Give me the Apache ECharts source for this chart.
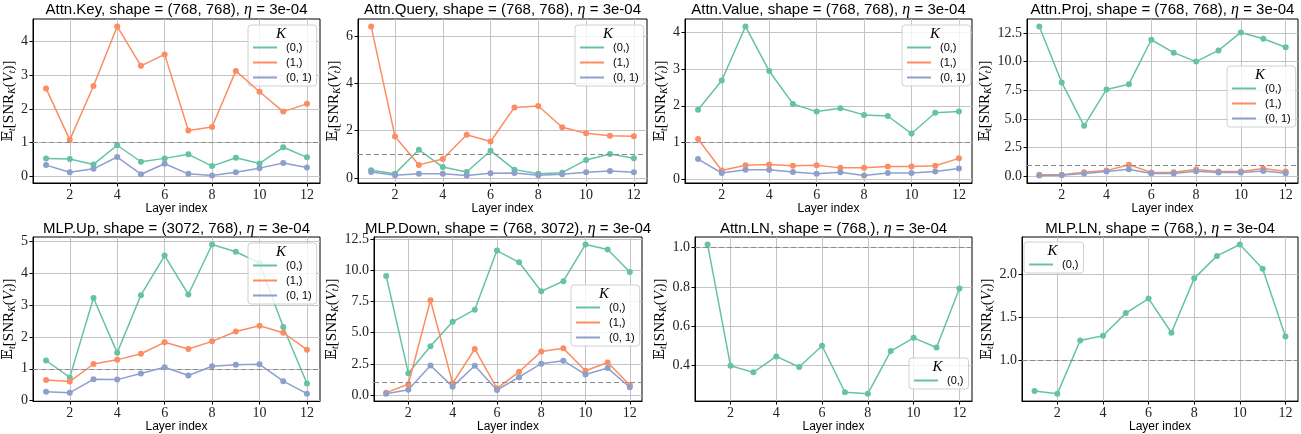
<!DOCTYPE html>
<html><head><meta charset="utf-8">
<script src="https://cdn.jsdelivr.net/npm/echarts@6/dist/echarts.min.js"></script>
<style>html,body{margin:0;padding:0;background:#fff}#c{width:1301px;height:434px}</style>
</head><body><div id="c"></div>
<script>
// ---------------- DATA ----------------
const layers = [1,2,3,4,5,6,7,8,9,10,11,12];
const seriesNames = ['(0,)', '(1,)', '(0, 1)'];
const xTicks = [2,4,6,8,10,12];
const threshold = 1;
const eta = '3e-04';
const modules = ['Attn.Key','Attn.Query','Attn.Value','Attn.Proj','MLP.Up','MLP.Down','Attn.LN','MLP.LN'];
const shapes = ['(768, 768)','(768, 768)','(768, 768)','(768, 768)','(3072, 768)','(768, 3072)','(768,)','(768,)'];

const attnKey_K0  = [0.53,0.51,0.35,0.92,0.43,0.53,0.65,0.30,0.55,0.38,0.86,0.56];
const attnKey_K1  = [2.61,1.08,2.68,4.45,3.28,3.62,1.36,1.46,3.13,2.51,1.92,2.15];
const attnKey_K01 = [0.33,0.12,0.22,0.57,0.06,0.37,0.07,0.02,0.12,0.24,0.39,0.26];

const attnQuery_K0  = [0.32,0.18,1.19,0.46,0.25,1.15,0.35,0.18,0.22,0.76,1.01,0.83];
const attnQuery_K1  = [6.40,1.75,0.55,0.80,1.82,1.54,2.98,3.04,2.14,1.89,1.78,1.76];
const attnQuery_K01 = [0.25,0.11,0.18,0.18,0.10,0.20,0.21,0.11,0.15,0.24,0.29,0.24];

const attnValue_K0  = [1.89,2.69,4.17,2.95,2.05,1.84,1.93,1.75,1.72,1.24,1.81,1.84];
const attnValue_K1  = [1.09,0.23,0.37,0.39,0.36,0.37,0.30,0.30,0.34,0.34,0.36,0.56];
const attnValue_K01 = [0.54,0.16,0.25,0.25,0.19,0.14,0.18,0.09,0.16,0.16,0.20,0.28];

const attnProj_K0  = [13.08,8.19,4.40,7.58,8.04,11.92,10.79,10.01,10.99,12.56,12.01,11.26];
const attnProj_K1  = [0.12,0.14,0.35,0.49,1.01,0.32,0.35,0.58,0.41,0.41,0.67,0.41];
const attnProj_K01 = [0.06,0.09,0.23,0.41,0.61,0.23,0.23,0.43,0.32,0.32,0.46,0.26];

const mlpUp_K0  = [1.26,0.73,3.22,1.50,3.31,4.55,3.33,4.90,4.67,4.32,2.31,0.54];
const mlpUp_K1  = [0.65,0.60,1.15,1.28,1.47,1.83,1.62,1.86,2.17,2.35,2.13,1.60];
const mlpUp_K01 = [0.28,0.25,0.67,0.66,0.85,1.05,0.79,1.08,1.13,1.14,0.61,0.22];

const mlpDown_K0  = [9.54,1.75,3.91,5.87,6.84,11.58,10.64,8.32,9.13,12.07,11.66,9.86];
const mlpDown_K1  = [0.19,0.86,7.60,0.94,3.69,0.54,1.86,3.48,3.74,1.94,2.61,0.81];
const mlpDown_K01 = [0.11,0.43,2.37,0.67,2.34,0.40,1.43,2.51,2.75,1.64,2.16,0.62];

const attnLN_K0 = [1.015,0.400,0.366,0.447,0.393,0.501,0.265,0.258,0.474,0.541,0.492,0.791];
const mlpLN_K0  = [0.638,0.607,1.230,1.284,1.550,1.720,1.320,1.957,2.220,2.354,2.070,1.276];

const yTicks_attnKey   = [0,1,2,3,4];
const yTicks_attnQuery = [0,2,4,6];
const yTicks_attnValue = [0,1,2,3,4];
const yTicks_attnProj  = [0,2.5,5,7.5,10,12.5];
const yTicks_mlpUp     = [0,1,2,3,4,5];
const yTicks_mlpDown   = [0,2.5,5,7.5,10,12.5];
const yTicks_attnLN    = [0.4,0.6,0.8,1.0];
const yTicks_mlpLN     = [1.0,1.5,2.0];

// ---------------- LAYOUT / STYLE ----------------
const colors = ['#66c2a5', '#fc8d62', '#8da0cb'];
const panels = [
  {s:[attnKey_K0,attnKey_K1,attnKey_K01], t:yTicks_attnKey, d:0, g:[33,19,287,164], lg:[248,25], nx:15},
  {s:[attnQuery_K0,attnQuery_K1,attnQuery_K01], t:yTicks_attnQuery, d:0, g:[358,19,289,164], lg:[575,25], nx:340},
  {s:[attnValue_K0,attnValue_K1,attnValue_K01], t:yTicks_attnValue, d:0, g:[685,19,287,164], lg:[902,25], nx:666},
  {s:[attnProj_K0,attnProj_K1,attnProj_K01], t:yTicks_attnProj, d:1, g:[1027,19,271,164], lg:[1227,66], nx:990},
  {s:[mlpUp_K0,mlpUp_K1,mlpUp_K01], t:yTicks_mlpUp, d:0, g:[33,237,287,165], lg:[248,243], nx:15},
  {s:[mlpDown_K0,mlpDown_K1,mlpDown_K01], t:yTicks_mlpDown, d:1, g:[374,237,268,165], lg:[571,285], nx:340},
  {s:[attnLN_K0], t:yTicks_attnLN, d:1, g:[695,237,277,165], lg:[909,358], nx:665},
  {s:[mlpLN_K0], t:yTicks_mlpLN, d:1, g:[1022,237,276,165], lg:[1024,242], nx:990}
];

function autoRange(arrs) {
  let mn = Infinity, mx = -Infinity;
  arrs.forEach(a => a.forEach(v => { mn = Math.min(mn, v); mx = Math.max(mx, v); }));
  const r = mx - mn;
  return [mn - 0.05 * r, mx + 0.05 * r];
}
const xr = autoRange([layers]);

const serif = 'Liberation Serif';
const sans = 'Liberation Sans';
const grids = [], xAxes = [], yAxes = [], series = [], legends = [], titles = [], graphics = [];

panels.forEach((p, i) => {
  const [L, T, W, H] = p.g;
  grids.push({left: L, top: T, width: W, height: H, show: true, borderColor: '#000', borderWidth: 1, containLabel: false});
  xAxes.push({
    type: 'value', gridIndex: i, min: xr[0], max: xr[1],
    name: 'Layer index', nameLocation: 'middle', nameGap: 16,
    nameTextStyle: {fontFamily: sans, fontSize: 12, color: '#000'},
    axisLine: {show: true, onZero: false, lineStyle: {color: '#000', width: 1}},
    axisTick: {show: true, inside: false, length: 3.5, customValues: xTicks, lineStyle: {color: '#000'}},
    axisLabel: {customValues: xTicks, margin: 5, fontFamily: serif, fontSize: 14, color: '#222'},
    splitLine: {show: true, lineStyle: {color: '#c4c4c4', width: 1}}
  });
  const yr = autoRange(p.s);
  yAxes.push({
    type: 'value', gridIndex: i, min: yr[0], max: yr[1],
    name: '{bb|𝔼}{sb|t}{n|[SNR}{sb|K}{n|(}{it|V}{sb|t}{n|)]}',
    nameLocation: 'middle', nameRotate: 90, nameGap: L - p.nx - 8,
    nameTextStyle: {color: '#000', rich: {
      bb: {fontFamily: 'DejaVu Serif', fontSize: 14, color: '#000'},
      n: {fontFamily: serif, fontSize: 15, color: '#000'},
      it: {fontFamily: serif, fontSize: 15, fontStyle: 'italic', color: '#000'},
      sb: {fontFamily: serif, fontSize: 10, fontStyle: 'italic', color: '#000', padding: [7, 0, 0, 0]}
    }},
    axisLine: {show: true, onZero: false, lineStyle: {color: '#000', width: 1}},
    axisTick: {show: true, inside: false, length: 3.5, customValues: p.t, lineStyle: {color: '#000'}},
    axisLabel: {customValues: p.t, margin: 5, fontFamily: serif, fontSize: 14, color: '#222',
      formatter: v => Number(v).toFixed(p.d)},
    splitLine: {show: true, lineStyle: {color: '#c4c4c4', width: 1}}
  });
  p.s.forEach((arr, k) => {
    const ser = {
      type: 'line', name: seriesNames[k], xAxisIndex: i, yAxisIndex: i,
      data: layers.map((x, j) => [x, arr[j]]),
      color: colors[k], symbol: 'circle', symbolSize: 6,
      lineStyle: {width: 1.5}, animation: false, z: 3 + k
    };
    if (k === 0) {
      ser.markLine = {silent: true, symbol: ['none', 'none'], label: {show: false},
        lineStyle: {type: [5, 3], color: '#8a8a8a', width: 1.2}, data: [{yAxis: threshold}], animation: false};
    }
    series.push(ser);
  });
  const names = seriesNames.slice(0, p.s.length);
  legends.push({
    data: names, left: p.lg[0], top: p.lg[1], orient: 'vertical',
    icon: 'rect', itemWidth: 24, itemHeight: 2, itemGap: 4,
    padding: [17, 5, 3, 5], backgroundColor: 'rgba(255,255,255,0.8)',
    borderColor: '#d0d0d0', borderWidth: 1, borderRadius: 3,
    textStyle: {fontFamily: sans, fontSize: 11, color: '#000', padding: [0, 0, 0, 4]},
    selectedMode: false
  });
  const boxW = p.s.length === 3 ? 66 : 57;
  graphics.push({type: 'text', x: p.lg[0] + boxW / 2, y: p.lg[1] + 9, z: 100, zlevel: 0,
    style: {text: 'K', font: 'italic 15px "Liberation Serif"', fill: '#000', align: 'center', verticalAlign: 'middle'}});
  titles.push({
    text: '{s|' + modules[i] + ', shape = ' + shapes[i] + ', }{i|η}{s| = ' + eta + '}',
    left: L + W / 2, top: i < 4 ? 2 : 221, textAlign: 'center', padding: 0,
    textStyle: {fontWeight: 'normal', rich: {
      s: {fontFamily: sans, fontSize: 15, fontWeight: 'normal', color: '#000'},
      i: {fontFamily: serif, fontSize: 16, fontStyle: 'italic', fontWeight: 'normal', color: '#000'}
    }}
  });
});

const chart = echarts.init(document.getElementById('c'), null, {renderer: 'canvas'});
chart.setOption({
  animation: false,
  backgroundColor: '#fff',
  title: titles, grid: grids, xAxis: xAxes, yAxis: yAxes, series: series, legend: legends,
  graphic: {elements: graphics}
});
</script></body></html>
